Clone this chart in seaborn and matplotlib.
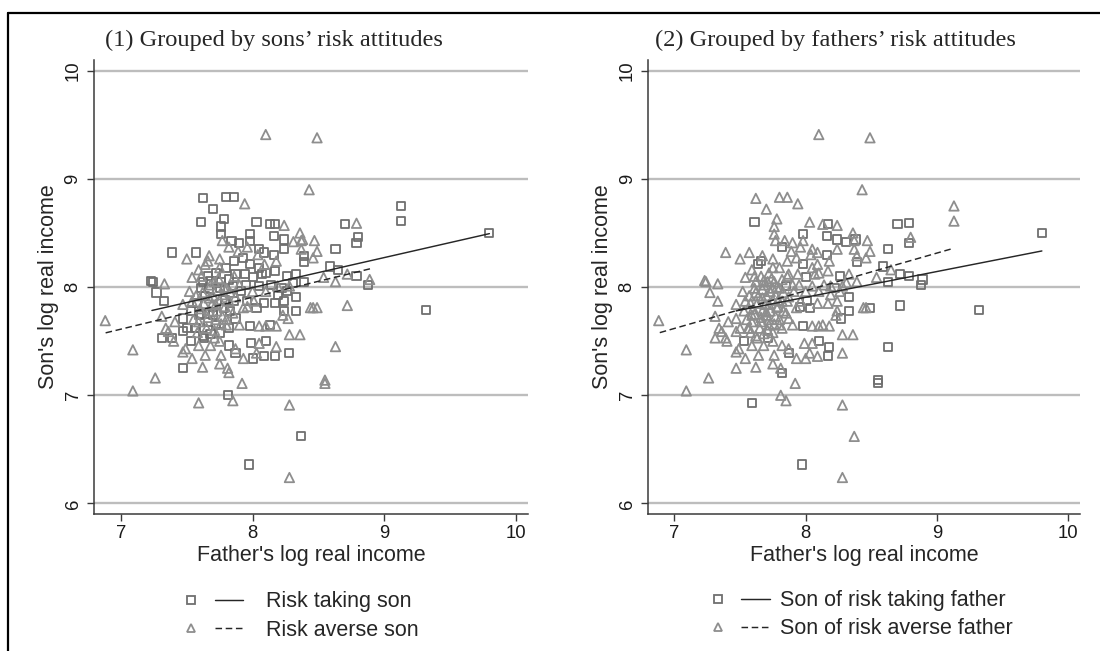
import numpy as np
import pandas as pd
import matplotlib
matplotlib.use("Agg")
import matplotlib.pyplot as plt
from matplotlib.lines import Line2D
from matplotlib.legend_handler import HandlerBase
import seaborn as sns

# ---- data: (father's log income, son's log income) ----
# son risk taking / father risk taking
tt_father = [9.80, 9.32, 8.88, 8.79, 8.79, 7.97, 7.61, 8.17, 8.16, 8.24,
             7.98, 8.16, 8.39, 8.63, 8.70, 8.59, 7.98, 8.00, 8.26, 7.85,
             8.22, 7.53, 7.98, 8.03, 8.33, 8.33, 8.10, 8.17, 7.87]
tt_son = [8.50, 7.79, 8.02, 8.10, 8.41, 6.36, 8.60, 8.58, 8.47, 8.44,
          8.49, 8.30, 8.23, 8.35, 8.58, 8.19, 8.21, 8.09, 8.10, 8.01,
          7.99, 7.50, 7.64, 7.81, 7.91, 7.78, 7.50, 7.36, 7.39]

# son risk taking / father risk averse
ta_father = [7.62, 7.80, 7.86, 9.13, 9.13, 7.23, 7.24, 8.80, 7.81, 8.37,
             7.70, 7.76, 7.78, 7.76, 8.03, 8.13, 8.24, 7.98, 7.84, 7.90,
             8.05, 8.09, 8.39, 8.65, 7.39, 7.57, 7.86, 7.93, 8.05, 7.80,
             7.72, 7.66, 7.62, 7.76, 7.82, 7.87, 7.94, 8.07, 8.10, 8.17,
             8.33, 7.61, 7.67, 7.75, 7.95, 8.05, 8.14, 8.31, 8.39, 7.27,
             7.33, 7.31, 7.39, 7.47, 7.57, 7.63, 7.68, 7.72, 7.82, 7.87,
             7.96, 8.09, 8.17, 8.24, 8.24, 8.13, 7.99, 8.00, 8.09, 8.28,
             7.82, 7.47, 7.50, 7.70, 7.78, 7.59, 7.53, 7.47, 7.86, 7.91,
             8.19, 8.26, 7.58, 7.64, 7.70, 7.66, 7.73, 7.79, 7.61, 7.68,
             7.56, 7.75, 7.83, 7.62]
ta_son = [8.82, 8.83, 8.83, 8.75, 8.61, 8.06, 8.05, 8.46, 7.00, 6.62,
          8.72, 8.56, 8.63, 8.49, 8.60, 8.58, 8.35, 8.43, 8.43, 8.41,
          8.35, 8.32, 8.29, 8.16, 8.32, 8.32, 8.24, 8.27, 8.18, 8.18,
          8.13, 8.10, 8.05, 8.05, 8.07, 8.12, 8.12, 8.12, 8.13, 8.15,
          8.12, 7.99, 7.98, 7.99, 8.02, 8.01, 8.02, 8.04, 8.05, 7.95,
          7.87, 7.53, 7.53, 7.59, 7.62, 7.53, 7.57, 7.65, 7.62, 7.71,
          7.87, 7.85, 7.85, 7.87, 7.78, 7.65, 7.48, 7.34, 7.36, 7.39,
          7.46, 7.25, 7.62, 7.74, 7.81, 7.74, 7.78, 7.71, 7.87, 7.96,
          7.93, 7.96, 7.85, 7.92, 7.77, 7.68, 7.96, 7.88, 7.75, 8.06,
          7.62, 7.58, 7.78, 7.55]

# son risk averse / father risk taking
at_father = [8.89, 8.79, 7.59, 8.55, 8.55, 8.72, 7.64, 7.82, 8.63, 8.72,
             8.49, 8.27, 8.18, 7.82, 8.63, 8.31, 8.38, 7.66, 8.01, 7.96,
             7.71]
at_son = [8.07, 8.59, 6.93, 7.14, 7.11, 7.83, 8.21, 8.37, 8.05, 8.12,
          7.81, 7.71, 7.45, 7.21, 7.45, 8.42, 8.44, 8.24, 7.87, 7.82,
          7.53]

# son risk averse / father risk averse
aa_father = [8.10, 8.49, 8.43, 6.88, 7.09, 7.09, 7.26, 7.85, 7.92, 8.28,
             8.28, 7.33, 7.94, 8.24, 8.36, 8.47, 8.37, 8.49, 8.46, 8.37,
             7.50, 7.59, 7.67, 7.75, 7.77, 7.89, 7.96, 8.04, 8.09, 8.18,
             7.75, 7.54, 7.71, 7.80, 7.90, 8.00, 8.10, 8.19, 8.28, 8.54,
             8.44, 8.46, 7.52, 7.47, 7.54, 7.67, 7.77, 7.87, 7.72, 7.82,
             7.93, 7.67, 7.77, 7.85, 7.59, 7.72, 7.80, 7.90, 8.05, 8.10,
             8.18, 8.23, 8.28, 8.36, 7.34, 7.41, 7.31, 7.36, 7.49, 7.59,
             7.68, 7.75, 7.76, 7.87, 8.05, 7.54, 7.62, 7.75, 7.81, 7.93,
             8.03, 7.47, 7.40, 7.64, 7.60, 7.63, 7.66, 7.70, 7.73, 7.75,
             7.78, 7.62, 7.57, 7.68, 7.74, 7.80, 7.83, 7.65, 7.71, 7.58,
             7.55, 7.79, 7.86, 7.61, 7.69, 7.76]
aa_son = [9.41, 9.38, 8.90, 7.69, 7.42, 7.04, 7.16, 6.95, 7.11, 6.24,
          6.91, 8.03, 8.77, 8.57, 8.50, 8.43, 8.43, 8.33, 8.27, 8.35,
          8.26, 8.16, 8.29, 8.26, 8.43, 8.33, 8.37, 8.30, 8.21, 8.24,
          8.18, 8.09, 8.05, 7.99, 8.02, 7.96, 7.96, 8.01, 8.01, 8.09,
          7.81, 7.81, 7.96, 7.84, 7.87, 7.90, 7.93, 7.91, 7.84, 7.87,
          7.81, 7.78, 7.73, 7.76, 7.68, 7.70, 7.65, 7.65, 7.64, 7.64,
          7.64, 7.74, 7.56, 7.56, 7.62, 7.68, 7.73, 7.59, 7.43, 7.46,
          7.46, 7.50, 7.37, 7.43, 7.48, 7.34, 7.26, 7.29, 7.25, 7.34,
          7.39, 7.40, 7.50, 7.37, 7.80, 7.85, 7.72, 7.92, 7.78, 7.88,
          8.00, 7.95, 7.92, 8.02, 8.08, 7.70, 7.95, 7.62, 7.60, 7.58,
          7.70, 7.82, 8.10, 8.10, 7.84, 7.66]

# fitted lines, end points
fit_son_taking_x, fit_son_taking_y = [7.235, 9.80], [7.784, 8.494]
fit_son_averse_x, fit_son_averse_y = [6.883, 8.896], [7.577, 8.170]
fit_fat_taking_x, fit_fat_taking_y = [7.47, 9.80], [7.780, 8.334]
fit_fat_averse_x, fit_fat_averse_y = [6.888, 9.128], [7.579, 8.359]

titles = ["(1) Grouped by sons\u2019 risk attitudes",
          "(2) Grouped by fathers\u2019 risk attitudes"]
legend_labels = [["Risk taking son", "Risk averse son"],
                 ["Son of risk taking father", "Son of risk averse father"]]

blocks = [(tt_father, tt_son, "taking", "taking"),
          (ta_father, ta_son, "taking", "averse"),
          (at_father, at_son, "averse", "taking"),
          (aa_father, aa_son, "averse", "averse")]
df = pd.concat([pd.DataFrame({"father": fx, "son": sy, "son_risk": sr, "father_risk": fr})
                for fx, sy, sr, fr in blocks], ignore_index=True)

fits = [[(fit_son_taking_x, fit_son_taking_y), (fit_son_averse_x, fit_son_averse_y)],
        [(fit_fat_taking_x, fit_fat_taking_y), (fit_fat_averse_x, fit_fat_averse_y)]]

sns.set_style("ticks")
plt.rcParams["font.family"] = ["Liberation Sans", "DejaVu Sans"]

SQ_COL, TRI_COL, LINE_COL = "#6f6f6f", "#8e8e8e", "#262626"
DASH = (0, (4.5, 2.5))


class MarkerThenLine(HandlerBase):
    # Stata-style key: marker, gap, then line sample
    def create_artists(self, legend, orig_handle, xdescent, ydescent,
                       width, height, fontsize, trans):
        mark, line = orig_handle
        yc = height / 2 - ydescent
        m = Line2D([0.07 * width - xdescent], [yc])
        m.update_from(mark)
        ln = Line2D([0.49 * width - xdescent, width - xdescent], [yc, yc])
        ln.update_from(line)
        m.set_transform(trans)
        ln.set_transform(trans)
        return [m, ln]


fig = plt.figure(figsize=(11, 6.51), dpi=100)
axes_rects = [[0.0855, 0.21, 0.3948, 0.698], [0.5893, 0.21, 0.3922, 0.698]]
xlims = [(6.795, 10.096), (6.80, 10.088)]
group_cols = ["son_risk", "father_risk"]
title_x = [0.249, 0.7595]
leg_anchor = [(0.1705, 0.0915), (0.6495, 0.0935)]
text_pads = [1.1, 0.5]

for i in range(2):
    ax = fig.add_axes(axes_rects[i])
    col = group_cols[i]
    take = df[df[col] == "taking"]
    avrs = df[df[col] == "averse"]
    sns.scatterplot(data=take, x="father", y="son", marker="s", s=34,
                    color=SQ_COL, facecolors="none", edgecolor=SQ_COL,
                    linewidth=1.3, legend=False, ax=ax, zorder=3)
    sns.scatterplot(data=avrs, x="father", y="son", marker="^", s=46,
                    color=TRI_COL, facecolors="none", edgecolor=TRI_COL,
                    linewidth=1.3, legend=False, ax=ax, zorder=3)
    (tx, ty), (ax_, ay_) = fits[i]
    sns.lineplot(x=tx, y=ty, color=LINE_COL, lw=1.05, sort=False, ax=ax, zorder=4)
    sns.lineplot(x=ax_, y=ay_, color=LINE_COL, lw=1.05, ls=DASH, sort=False, ax=ax, zorder=4)

    ax.set_xlim(*xlims[i])
    ax.set_ylim(5.9, 10.1)
    ax.set_xticks([7, 8, 9, 10])
    ax.set_yticks([6, 7, 8, 9, 10])
    ax.yaxis.grid(True, color="#bdbdbd", lw=1.7)
    ax.xaxis.grid(False)
    ax.set_axisbelow(True)
    sns.despine(ax=ax)
    for sp in ("left", "bottom"):
        ax.spines[sp].set_color("#3a3a3a")
        ax.spines[sp].set_linewidth(1.1)
    ax.tick_params(axis="both", colors="#3a3a3a", labelcolor="#1a1a1a",
                   length=5, width=1.0, labelsize=13.3)
    ax.tick_params(axis="x", pad=3)
    ax.tick_params(axis="y", pad=4)
    plt.setp(ax.get_yticklabels(), rotation=90, va="center")
    ax.set_xlabel("Father's log real income", fontsize=15.5, labelpad=2)
    ax.set_ylabel("Son's log real income", fontsize=15.5, labelpad=4)

    fig.text(title_x[i], 0.938, titles[i], ha="center", va="center",
             fontsize=17.6, family=["Liberation Serif", "DejaVu Serif"])

    mk_sq = Line2D([], [], marker="s", ls="none", mfc="none", mec=SQ_COL, ms=5.4, mew=1.3)
    mk_tr = Line2D([], [], marker="^", ls="none", mfc="none", mec=TRI_COL, ms=6.4, mew=1.3)
    ln_so = Line2D([], [], color=LINE_COL, lw=1.05)
    ln_da = Line2D([], [], color=LINE_COL, lw=1.05, ls=DASH)
    ax.legend([(mk_sq, ln_so), (mk_tr, ln_da)], legend_labels[i],
              handler_map={tuple: MarkerThenLine()},
              loc="upper left", bbox_to_anchor=leg_anchor[i],
              bbox_transform=fig.transFigure, frameon=False,
              fontsize=15.5, handlelength=2.56, handletextpad=text_pads[i],
              labelspacing=0.34, borderpad=0, borderaxespad=0)

# outer frame lines (table cell edges)
fig.add_artist(Line2D([0.007, 1.0], [0.98, 0.98], color="black", lw=1.6,
                      transform=fig.transFigure))
fig.add_artist(Line2D([0.007, 0.007], [0.0, 0.98], color="black", lw=1.6,
                      transform=fig.transFigure))

fig.savefig("out.png", dpi=100)
